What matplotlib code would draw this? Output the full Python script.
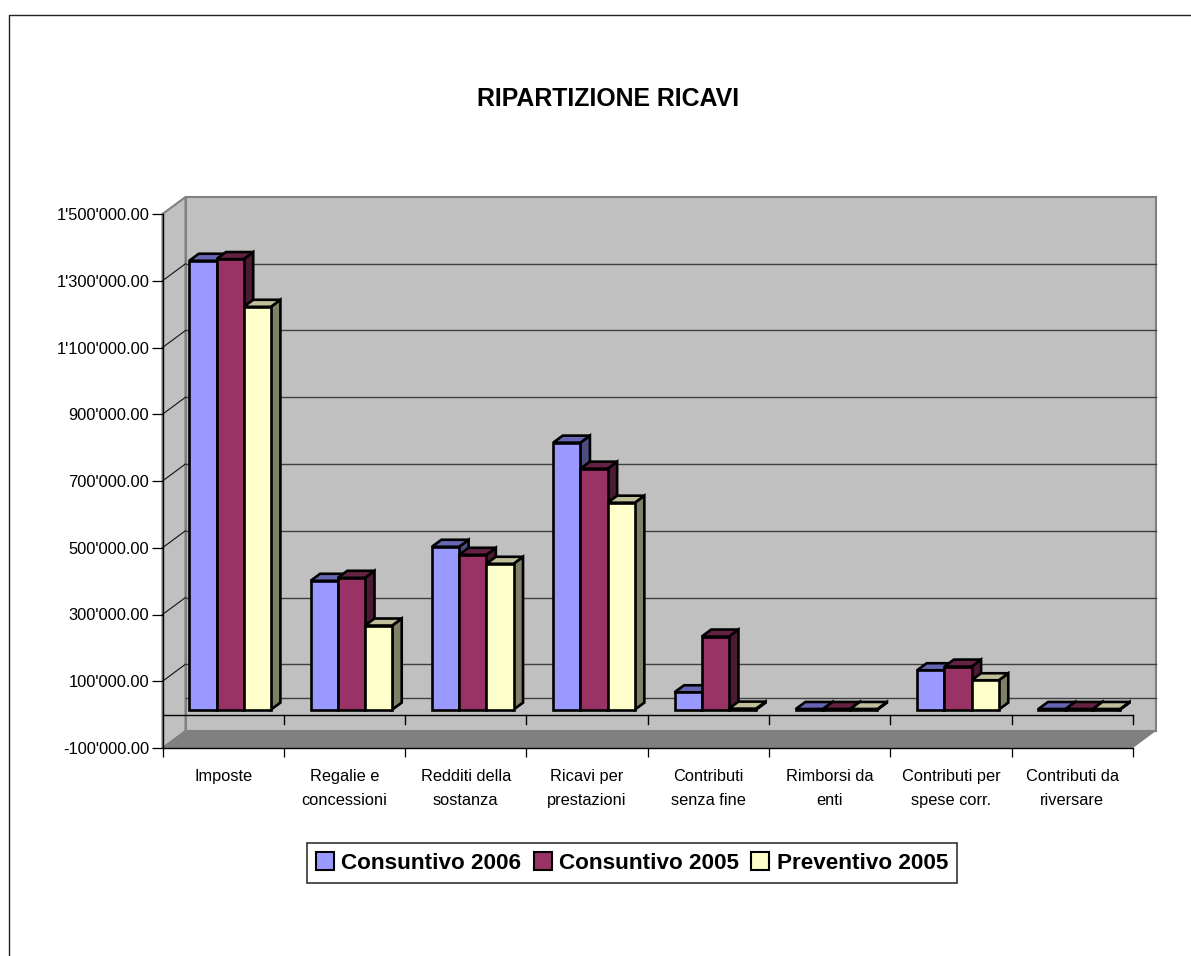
import matplotlib
matplotlib.use('Agg')
import matplotlib.pyplot as plt
from matplotlib.lines import Line2D
from matplotlib.patches import Patch, Polygon

plt.rcParams['font.family'] = ['Liberation Sans', 'DejaVu Sans']

categories = ['Imposte', 'Regalie e\nconcessioni', 'Redditi della\nsostanza', 'Ricavi per\nprestazioni',
              'Contributi\nsenza fine', 'Rimborsi da\nenti', 'Contributi per\nspese corr.', 'Contributi da\nriversare']
consuntivo_2006 = [1345000, 386000, 488000, 800000, 52000, 2000, 118000, 2000]
consuntivo_2005 = [1350000, 395000, 464000, 722000, 219000, 2000, 129000, 2000]
preventivo_2005 = [1207000, 252000, 437000, 620000, 3000, 2000, 88000, 2000]
y_ticks = [-100000, 100000, 300000, 500000, 700000, 900000, 1100000, 1300000, 1500000]

W, H = 1191, 956
# front plane of the 3d box, in pixels
LEFT, RIGHT, TOP, BOTTOM = 162.5, 1133.0, 214.0, 748.0
YMIN, YMAX = -100000, 1500000
PX_X = len(categories) / (RIGHT - LEFT)
PX_Y = (YMAX - YMIN) / (BOTTOM - TOP)

fig = plt.figure(figsize=(W / 100, H / 100), dpi=100)
ax = fig.add_axes([LEFT / W, 1 - BOTTOM / H, (RIGHT - LEFT) / W, (BOTTOM - TOP) / H])
ax.set_xlim(0, len(categories))
ax.set_ylim(YMIN, YMAX)
ax.patch.set_visible(False)

# depth of the box
DX = 23 * PX_X
DY = 17 * PX_Y


def poly(points, color, edge='none', lw=0.0, z=1):
    ax.add_patch(Polygon(points, closed=True, facecolor=color, edgecolor=edge, linewidth=lw,
                         zorder=z, clip_on=False, joinstyle='miter'))


n = len(categories)
# walls and floor
poly([(DX, YMIN + DY), (n + DX, YMIN + DY), (n + DX, YMAX + DY), (DX, YMAX + DY)], '#c0c0c0', '#808080', 1.5, 1)
poly([(0, YMIN), (DX, YMIN + DY), (DX, YMAX + DY), (0, YMAX)], '#c0c0c0', '#808080', 1.5, 1)
poly([(0, YMIN), (n, YMIN), (n + DX, YMIN + DY), (DX, YMIN + DY)], '#808080', z=2)

# gridlines on the back wall and their diagonals on the side wall
for v in y_ticks[1:-1] + [0]:
    ax.plot([DX, n + DX], [v + DY, v + DY], color='#404040', lw=1.0, zorder=1.5, clip_on=False)
for v in y_ticks[1:-1]:
    ax.plot([0, DX], [v, v + DY], color='#111111', lw=0.8, zorder=1.5, clip_on=False)

# zero plane with its ticks
ax.plot([0, n], [0, 0], color='black', lw=1.0, zorder=3, clip_on=False)
for i in range(1, n + 1):
    ax.plot([i, i], [0, -9 * PX_Y], color='black', lw=1.0, zorder=3, clip_on=False)

# bars
series = [(consuntivo_2006, '#9999ff', '#6666b3', '#4d4d80'),
          (consuntivo_2005, '#993366', '#662244', '#4d1a33'),
          (preventivo_2005, '#ffffcc', '#bfbf99', '#808066')]
BAR_W = 27.2 * PX_X
GAP = 26.8 * PX_X
BASE = 5 * PX_Y
BX = 9.5 * PX_X
BY = 7 * PX_Y
for c in range(n):
    for s, (vals, front, top, side) in enumerate(series):
        x0 = c + GAP + s * BAR_W
        x1 = x0 + BAR_W
        y0 = BASE
        y1 = BASE + vals[c]
        z = 4 + s * 0.1
        poly([(x1, y0), (x1 + BX, y0 + BY), (x1 + BX, y1 + BY), (x1, y1)], side, 'black', 1.9, z)
        poly([(x0, y1), (x1, y1), (x1 + BX, y1 + BY), (x0 + BX, y1 + BY)], top, 'black', 1.9, z)
        poly([(x0, y0), (x1, y0), (x1, y1), (x0, y1)], front, 'black', 1.9, z)

# axes
for name in ['top', 'right']:
    ax.spines[name].set_visible(False)
for name in ['left', 'bottom']:
    ax.spines[name].set_linewidth(1.0)
    ax.spines[name].set_zorder(6)
ax.set_yticks(y_ticks)
ax.set_yticklabels(["{:,.2f}".format(v).replace(',', "'") for v in y_ticks], fontsize=11.9)
ax.tick_params(axis='y', length=8, width=0.9, pad=1.5)
ax.set_xticks(range(n + 1))
ax.set_xticklabels([])
ax.set_xticks([i + 0.5 for i in range(n)], labels=categories, minor=True, fontsize=11.8, linespacing=1.75)
ax.tick_params(axis='x', which='major', length=6.5, width=0.9)
ax.tick_params(axis='x', which='minor', length=0, pad=15)

fig.text(608 / W, 1 - 98.5 / H, 'RIPARTIZIONE RICAVI', ha='center', va='center', fontsize=17.9, fontweight='bold')

handles = [Patch(facecolor=s[1], edgecolor='black', linewidth=1.5) for s in series]
leg = fig.legend(handles, ['Consuntivo 2006', 'Consuntivo 2005', 'Preventivo 2005'], ncol=3,
                 loc='center', bbox_to_anchor=(632 / W, 1 - 863 / H),
                 prop={'weight': 'bold', 'size': 16.2}, fancybox=False, framealpha=1, edgecolor='#333333',
                 handlelength=0.8, handleheight=0.8, handletextpad=0.32, columnspacing=0.55,
                 borderpad=0.42, borderaxespad=0)
leg.get_frame().set_linewidth(1.2)

# chart area border
fig.add_artist(Line2D([8.5 / W, 8.5 / W, 1], [0, 1 - 14.5 / H, 1 - 14.5 / H], color='#222222', lw=1.0))

fig.savefig('out.png', dpi=100)
